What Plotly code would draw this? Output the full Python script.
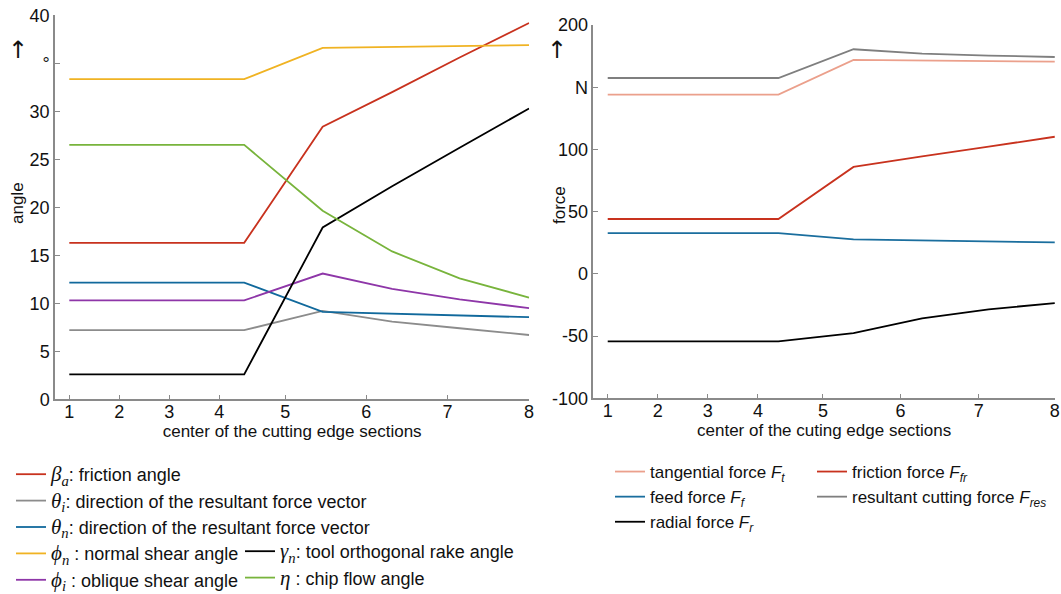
import plotly.graph_objects as go

W, H = 1061, 594

# ---------------- data (left: angles) ----------------
section_labels = ["1", "2", "3", "4", "5", "6", "7", "8"]
left_tick_pos = [1, 2, 3, 4, 5.32, 6.94, 8.57, 10.2]
left_x = [1, 4.5, 6.07, 7.46, 8.81, 10.2]

beta_a = [16.3, 16.3, 28.4, 32.0, 35.6, 39.2]
theta_i = [7.2, 7.2, 9.2, 8.1, 7.4, 6.7]
theta_n = [12.15, 12.15, 9.1, 8.9, 8.7, 8.55]
phi_n = [33.35, 33.35, 36.6, 36.7, 36.8, 36.9]
phi_i = [10.3, 10.3, 13.1, 11.5, 10.4, 9.5]
gamma_n = [2.6, 2.6, 17.9, 22.2, 26.2, 30.3]
eta = [26.5, 26.5, 19.65, 15.4, 12.6, 10.6]

left_y_ticks = [0, 5, 10, 15, 20, 25, 30, 35, 40]
left_y_text = ["0", "5", "10", "15", "20", "25", "30", "°", "40"]

# ---------------- data (right: forces) ----------------
right_tick_pos = [1, 2, 3, 4, 5.3, 6.85, 8.41, 9.93]
right_x = [1, 4.41, 5.91, 7.28, 8.61, 9.93]

F_t = [144.0, 144.0, 171.9, 171.3, 171.1, 170.5]
F_fr = [44.1, 44.1, 85.9, 94.5, 102.2, 110.2]
F_f = [32.8, 32.8, 27.7, 26.9, 26.1, 25.3]
F_res = [157.4, 157.4, 180.5, 177.0, 175.4, 174.3]
F_r = [-54.3, -54.3, -47.6, -35.8, -28.5, -23.5]

right_y_ticks = [-100, -50, 0, 50, 100, 150, 200]
right_y_text = ["-100", "-50", "0", "50", "100", "N", "200"]

SANS = "Arial, 'Liberation Sans', sans-serif"
SERIF = "'Liberation Serif', 'DejaVu Serif', serif"


def sym(s):
    return f"<span style=\"font-family:{SERIF};font-size:21px\">{s}</span>"


fig = go.Figure()

left_series = [
    (beta_a, "#C8321E", sym("<i>β</i><sub><i>a</i></sub>") + ": friction angle", "legend"),
    (theta_i, "#8C8C8C", sym("<i>θ</i><sub><i>i</i></sub>") + ": direction of the resultant force vector", "legend"),
    (theta_n, "#11699C", sym("<i>θ</i><sub><i>n</i></sub>") + ": direction of the resultant force vector", "legend"),
    (phi_n, "#F0B323", sym("<i>ϕ</i><sub><i>n</i></sub>") + " : normal shear angle", "legend"),
    (phi_i, "#8E36A8", sym("<i>ϕ</i><sub><i>i</i></sub>") + " : oblique shear angle", "legend"),
    (gamma_n, "#000000", sym("<i>γ</i><sub><i>n</i></sub>") + ": tool orthogonal rake angle", "legend2"),
    (eta, "#78B43C", sym("<i>η</i>") + " : chip flow angle", "legend2"),
]
for ys, col, name, lg in left_series:
    fig.add_trace(go.Scatter(x=left_x, y=ys, mode="lines", name=name,
                             line=dict(color=col, width=1.8),
                             xaxis="x", yaxis="y", legend=lg))

right_series = [
    (F_t, "#EBA08C", "tangential force " + "<i>F</i><sub><i>t</i></sub>", "legend3"),
    (F_f, "#1A6E9E", "feed force " + "<i>F</i><sub><i>f</i></sub>", "legend3"),
    (F_r, "#000000", "radial force " + "<i>F</i><sub><i>r</i></sub>", "legend3"),
    (F_fr, "#C8321E", "friction force " + "<i>F</i><sub><i>fr</i></sub>", "legend4"),
    (F_res, "#7F7F7F", "resultant cutting force " + "<i>F</i><sub><i>res</i></sub>", "legend4"),
]
for ys, col, name, lg in right_series:
    fig.add_trace(go.Scatter(x=right_x, y=ys, mode="lines", name=name,
                             line=dict(color=col, width=1.8),
                             xaxis="x2", yaxis="y2", legend=lg))

axis_common = dict(showline=True, linecolor="#8A8A8A", linewidth=1.5,
                   ticks="inside", ticklen=5, tickcolor="#8A8A8A", tickwidth=1.2,
                   showgrid=False, zeroline=False, ticklabeloverflow="allow",
                   automargin=False,
                   tickfont=dict(family=SANS, size=18, color="#111"))

def py(p):
    return 1 - p / H

def px(p):
    return p / W

fig.update_layout(
    width=W, height=H,
    margin=dict(l=0, r=0, t=0, b=0, autoexpand=False),
    paper_bgcolor="white", plot_bgcolor="white",
    font=dict(family=SANS, size=16, color="#111"),
    xaxis=dict(domain=[px(55), px(529.3)], range=[0.714, 10.205],
               tickvals=left_tick_pos, ticktext=section_labels, anchor="y",
               ticklabelstandoff=-5,
               title=dict(text="center of the cutting edge sections",
                          font=dict(family=SANS, size=17), standoff=0),
               **axis_common),
    yaxis=dict(domain=[py(399.3), py(15.3)], range=[0, 40],
               tickvals=left_y_ticks, ticktext=left_y_text, anchor="x",
               **axis_common),
    xaxis2=dict(domain=[px(593.3), px(1055)], range=[0.712, 9.935],
                tickvals=right_tick_pos, ticktext=section_labels, anchor="y2",
                ticklabelstandoff=-5,
                title=dict(text="center of the cuting edge sections",
                           font=dict(family=SANS, size=17), standoff=0),
                **axis_common),
    yaxis2=dict(domain=[py(398.3), py(25)], range=[-100, 200],
                tickvals=right_y_ticks, ticktext=right_y_text, anchor="x2",
                **axis_common),
)

leg_common = dict(bgcolor="rgba(0,0,0,0)", borderwidth=0, tracegroupgap=0,
                  xref="container", yref="container",
                  xanchor="left", yanchor="top", orientation="v")
left_font = dict(family=SANS, size=18, color="#111")
right_font = dict(family=SANS, size=17, color="#111")
fig.update_layout(
    legend=dict(x=px(11), y=py(456), font=left_font, **leg_common),
    legend2=dict(x=px(240), y=py(533), font=left_font, **leg_common),
    legend3=dict(x=px(610), y=py(454), font=right_font, **leg_common),
    legend4=dict(x=px(812), y=py(454), font=right_font, **leg_common),
)

# axis titles and arrows
ann = [
    dict(text="angle", x=px(18), y=py(203), textangle=-90, font=dict(family=SANS, size=17, color="#111")),
    dict(text="↑", x=px(18), y=py(50), font=dict(family="DejaVu Sans", size=24, color="#111")),
    dict(text="force", x=px(559), y=py(205), textangle=-90, font=dict(family=SANS, size=17, color="#111")),
    dict(text="↑", x=px(557), y=py(50), font=dict(family="DejaVu Sans", size=24, color="#111")),
]
for a in ann:
    fig.add_annotation(xref="paper", yref="paper", showarrow=False,
                       xanchor="center", yanchor="middle", **a)

fig.write_html("out.html",
               config={"displayModeBar": False},
               post_script="document.body.style.margin='0px';document.body.style.overflow='hidden';")
